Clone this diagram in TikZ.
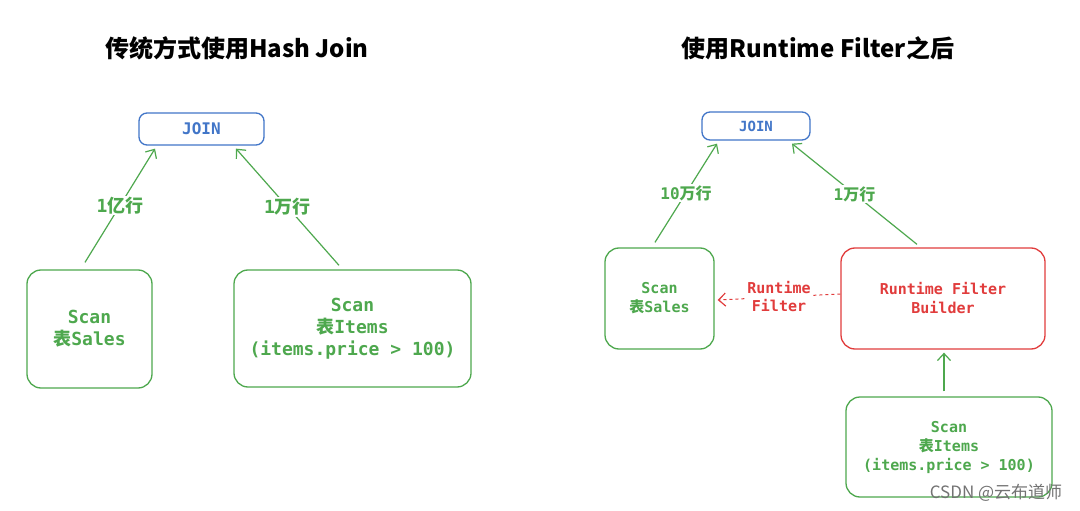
\documentclass[tikz,border=0pt]{standalone}
\usepackage{fontspec}
\setmonofont{DejaVu Sans Mono}
\newfontfamily\cjk{Noto Sans CJK SC}
\usetikzlibrary{arrows.meta}
\definecolor{scangreen}{RGB}{78,168,78}
\definecolor{joinblue}{RGB}{66,118,200}
\definecolor{rfred}{RGB}{225,60,60}
\tikzset{
  title/.style={font=\cjk\bfseries\fontsize{24}{28}\selectfont},
  joinbox/.style={draw=joinblue, text=joinblue, line width=1.3pt, rounded corners=8pt,
    font=\ttfamily\bfseries\fontsize{#1}{#1}\selectfont},
  scanbox/.style 2 args={draw=scangreen, text=scangreen, line width=1.3pt, rounded corners=14pt,
    align=center, font=\ttfamily\bfseries\fontsize{#1}{#2}\selectfont},
  buildbox/.style 2 args={scanbox={#1}{#2}, draw=rfred, text=rfred},
  flow/.style={draw=scangreen, line width=1.2pt, -{Straight Barb[length=7pt,width=13pt,line width=1.2pt]}},
  rows/.style={fill=white, text=scangreen, inner sep=1pt,
    font=\ttfamily\bfseries\fontsize{#1}{#1}\selectfont}
}
\newcommand\zh[1]{{\cjk\bfseries #1}}
\begin{document}
\begin{tikzpicture}[x=1pt,y=-1pt]
\useasboundingbox[fill=white] (0,0) rectangle (1080,511);

% traditional hash join
\node[title] (ltitle) at (237,48) {传统方式使用Hash Join};
\node[joinbox=16, minimum width=125pt, minimum height=32pt] (ljoin) at (201.5,129) {JOIN};
\node[scanbox={18}{22}, minimum width=125pt, minimum height=118pt] (lsales) at (89.5,329) {Scan\\\zh{表}Sales};
\node[scanbox={18}{22}, minimum width=237pt, minimum height=117pt] (litems) at (352.5,328.5) {Scan\\\zh{表}Items\\(items.price > 100)};
\draw[flow] ([xshift=-4.5pt,yshift=7pt]lsales.north) -- node[rows=18] {1\zh{亿行}} ([xshift=-46.5pt,yshift=-3pt]ljoin.south);
\draw[flow] ([xshift=-13.5pt,yshift=4pt]litems.north) -- node[rows=18] {1\zh{万行}} ([xshift=34.5pt,yshift=-3pt]ljoin.south);

% with runtime filter
\node[title] (rtitle) at (818,48) {使用Runtime Filter之后};
\node[joinbox=14, minimum width=108pt, minimum height=28pt] (rjoin) at (756,126) {JOIN};
\node[scanbox={15}{19}, minimum width=109pt, minimum height=101pt] (rsales) at (659.5,298.5) {Scan\\\zh{表}Sales};
\node[buildbox={15}{19}, minimum width=204pt, minimum height=101pt] (builder) at (943,298.5) {Runtime Filter\\Builder};
\node[scanbox={15}{19}, minimum width=206pt, minimum height=100pt] (ritems) at (949,447) {Scan\\\zh{表}Items\\(items.price > 100)};
\draw[flow] ([xshift=-4.5pt,yshift=5pt]rsales.north) -- node[rows=16] {10\zh{万行}} ([xshift=-39pt,yshift=-3pt]rjoin.south);
\draw[flow] ([xshift=-26pt,yshift=3pt]builder.north) -- node[rows=16] {1\zh{万行}} ([xshift=36pt,yshift=-3pt]rjoin.south);
\draw[flow, draw=rfred, dashed, line width=1pt] ([yshift=4.5pt]builder.west) -- node[rows=15, text=rfred, align=center, font=\ttfamily\bfseries\fontsize{15}{18}\selectfont] {Runtime\\Filter} ([xshift=3pt,yshift=-1.5pt]rsales.east);
\draw[flow] ([xshift=-5pt,yshift=5pt]ritems.north) -- ([xshift=1pt,yshift=-3pt]builder.south);

\node[text=black!55, font=\cjk\fontsize{17}{17}\selectfont] (mark) at (996,493) {CSDN @云布道师};
\end{tikzpicture}
\end{document}
